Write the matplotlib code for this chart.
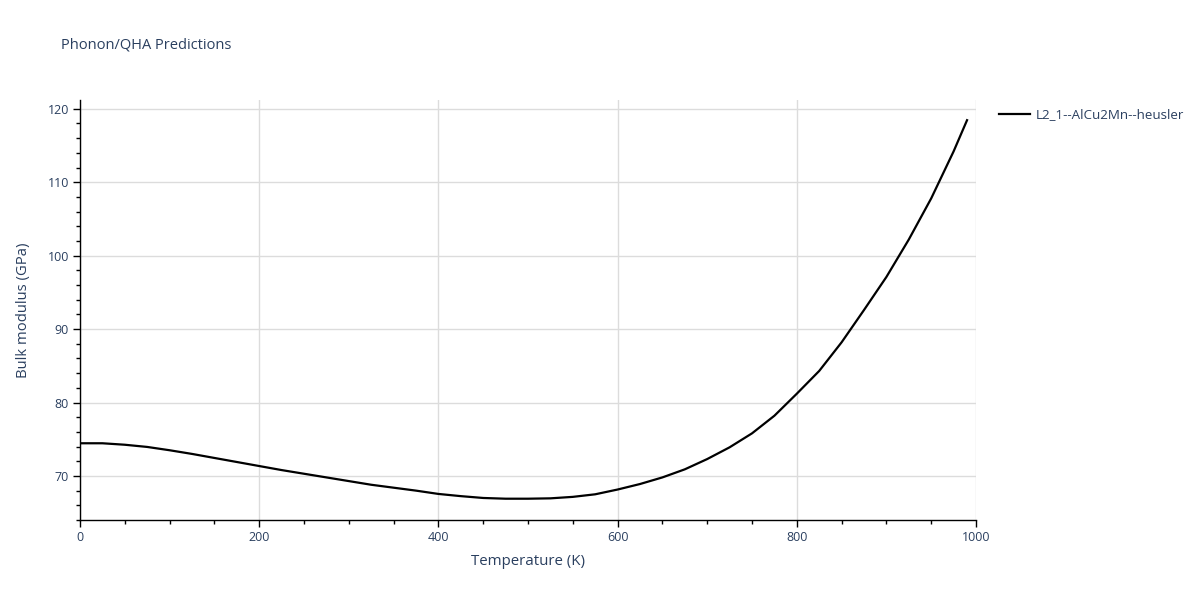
import matplotlib
matplotlib.use("Agg")
import matplotlib.pyplot as plt
from matplotlib.ticker import MultipleLocator

temperature = [0, 25, 50, 75, 100, 125, 150, 175, 200, 225, 250, 275, 300, 325, 350,
               375, 400, 425, 450, 475, 500, 525, 550, 575, 600, 625, 650, 675, 700,
               725, 750, 775, 800, 825, 850, 875, 900, 925, 950, 975, 990]
bulk_modulus = [74.45, 74.45, 74.25, 73.95, 73.5, 73.0, 72.45, 71.9, 71.35, 70.8, 70.3,
                69.8, 69.3, 68.8, 68.4, 68.0, 67.55, 67.25, 67.0, 66.9, 66.9, 66.95,
                67.15, 67.5, 68.15, 68.9, 69.8, 70.9, 72.3, 73.9, 75.8, 78.2, 81.2,
                84.3, 88.2, 92.6, 97.1, 102.2, 107.8, 114.2, 118.45]
series_name = "L2_1--AlCu2Mn--heusler"
title = "Phonon/QHA Predictions"
x_label = "Temperature (K)"
y_label = "Bulk modulus (GPa)"

text_color = "#2a3f5f"
plt.rcParams['font.family'] = ['Open Sans', 'DejaVu Sans']

fig = plt.figure(figsize=(12, 6), dpi=100)
ax = fig.add_axes([80/1200, 1-520/600, (976-80)/1200, (520-100)/600])

ax.plot(temperature, bulk_modulus, color="black", lw=1.6, label=series_name, zorder=3)

ax.set_xlim(0, 1000)
ax.set_ylim(64.0, 121.2)
ax.xaxis.set_major_locator(MultipleLocator(200))
ax.xaxis.set_minor_locator(MultipleLocator(50))
ax.yaxis.set_major_locator(MultipleLocator(10))
ax.yaxis.set_minor_locator(MultipleLocator(2))

ax.grid(True, which="major", color="#dcdcdc", lw=1)
ax.set_axisbelow(True)
for s in ["top", "right"]:
    ax.spines[s].set_visible(False)
for s in ["left", "bottom"]:
    ax.spines[s].set_color("black")
    ax.spines[s].set_linewidth(1)

ax.tick_params(which="major", direction="out", length=5, width=1, color="black",
               labelcolor=text_color, labelsize=9, pad=3)
ax.tick_params(which="minor", direction="out", length=3, width=1, color="black")

ax.set_xlabel(x_label, fontsize=10.8, color=text_color, labelpad=7)
ax.set_ylabel(y_label, fontsize=10.7, color=text_color, labelpad=12)

fig.text(61/1200, 1-45/600, title, fontsize=10.5, color=text_color, va="center", ha="left")

leg = ax.legend(loc="upper left", bbox_to_anchor=(914/896, 1 - 3/420),
                frameon=False, fontsize=9.6, handlelength=2.3, handletextpad=0.45,
                borderaxespad=0)
for t in leg.get_texts():
    t.set_color(text_color)

fig.savefig("out.png", dpi=100, facecolor="white")
